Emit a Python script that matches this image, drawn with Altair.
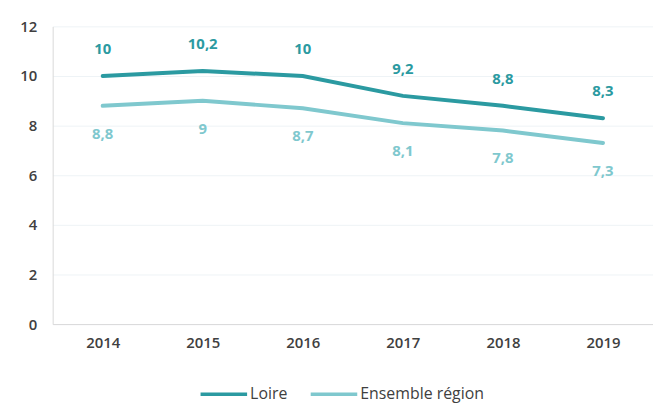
import altair as alt
import pandas as pd

years = ["2014", "2015", "2016", "2017", "2018", "2019"]
loire = [10, 10.2, 10, 9.2, 8.8, 8.3]
region = [8.8, 9, 8.7, 8.1, 7.8, 7.3]
series_names = ["Loire", "Ensemble région"]
colors = ["#2b9aa1", "#7fc8ce"]

rows = []
for s, vals in zip(series_names, [loire, region]):
    for y, v in zip(years, vals):
        rows.append({"year": y, "value": v, "series": s,
                     "label": ("%g" % v).replace(".", ",")})
df = pd.DataFrame(rows)

x = alt.X("year:O", scale=alt.Scale(type="point", padding=0.5),
          axis=alt.Axis(title=None, labelAngle=0, ticks=False, domainColor="#d9d9d9",
                        labelFont="Open Sans", labelFontSize=15, labelFontWeight=600,
                        labelColor="#404040", labelPadding=12))
y = alt.Y("value:Q", scale=alt.Scale(domain=[0, 12]),
          axis=alt.Axis(title=None, values=[0, 2, 4, 6, 8, 10, 12], ticks=False,
                        domainColor="#d9d9d9", gridColor="#eef3f6",
                        labelFont="Open Sans", labelFontSize=15, labelFontWeight=600,
                        labelColor="#404040", labelPadding=16))
color = alt.Color("series:N", scale=alt.Scale(domain=series_names, range=colors),
                  legend=alt.Legend(title=None, orient="none", direction="horizontal",
                                    legendX=147, legendY=345, symbolType="stroke",
                                    symbolSize=2200, symbolStrokeWidth=3.5,
                                    labelFont="Open Sans", labelFontSize=16,
                                    labelColor="#404040", columnPadding=16,
                                    labelOffset=1, padding=0))

lines = alt.Chart(df).mark_line(strokeWidth=4, strokeCap="round").encode(
    x=x, y=y, color=color)

lab_top = alt.Chart(df[df.series == "Loire"]).mark_text(
    dy=-27, font="Open Sans", fontSize=15, fontWeight="bold", color=colors[0]
).encode(x=x, y=y, text="label:N")

lab_bot = alt.Chart(df[df.series == "Ensemble région"]).mark_text(
    dy=28, font="Open Sans", fontSize=15, fontWeight="bold", color=colors[1]
).encode(x=x, y=y, text="label:N")

chart = alt.layer(lines, lab_top, lab_bot).properties(
    width=605, height=300,
    autosize=alt.AutoSizeParams(type="none"),
    padding={"left": 45, "top": 17, "right": 0, "bottom": 80},
).configure_view(stroke=None)

chart.save("out.html", embed_options={"renderer": "svg", "actions": False})
